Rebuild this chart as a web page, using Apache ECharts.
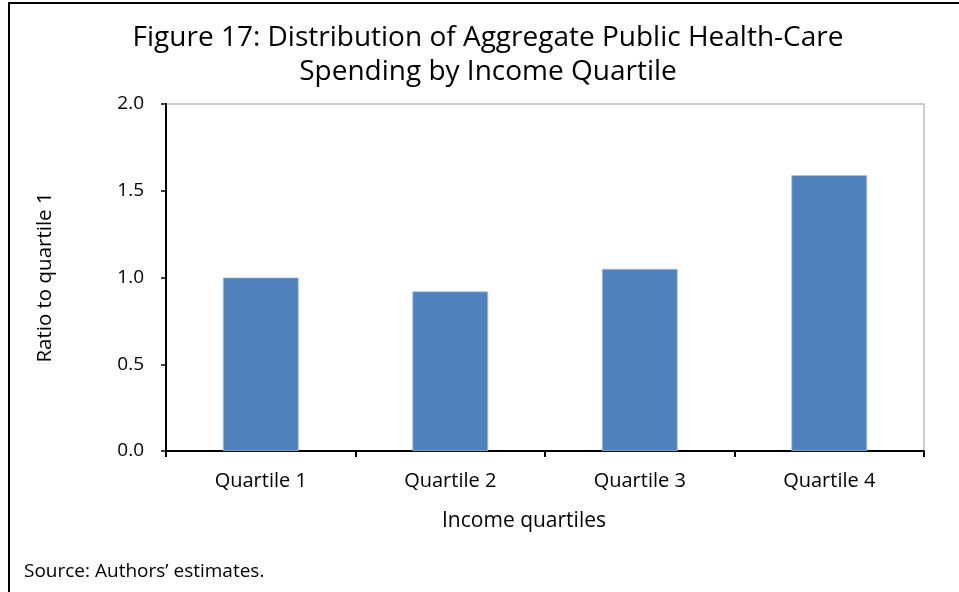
<!DOCTYPE html>
<html>
<head>
<meta charset="utf-8">
<script src="https://cdn.jsdelivr.net/npm/echarts@6/dist/echarts.min.js"></script>
<style>
html,body{margin:0;padding:0;background:#fff;}
#chart{width:959px;height:592px;}
</style>
</head>
<body>
<div id="chart"></div>
<script>
var categories = ['Quartile 1', 'Quartile 2', 'Quartile 3', 'Quartile 4'];
var ratioValues = [1.00, 0.92, 1.05, 1.59];
var titleLines = ['Figure 17: Distribution of Aggregate Public Health-Care', 'Spending by Income Quartile'];
var yAxisName = 'Ratio to quartile 1';
var xAxisName = 'Income quartiles';
var sourceNote = 'Source: Authors\u2019 estimates.';

var FONT = '"Open Sans", Lato, sans-serif';
var chart = echarts.init(document.getElementById('chart'));
chart.setOption({
  animation: false,
  backgroundColor: '#fff',
  graphic: [
    { type: 'rect', shape: { x: 9, y: 3, width: 1000, height: 1000 }, style: { fill: 'none', stroke: '#000', lineWidth: 2 }, silent: true },
    { type: 'text', x: 488, y: 38, style: { text: titleLines[0], fontFamily: FONT, fontSize: 28, fill: '#000', align: 'center', verticalAlign: 'middle' } },
    { type: 'text', x: 488, y: 72, style: { text: titleLines[1], fontFamily: FONT, fontSize: 28, fill: '#000', align: 'center', verticalAlign: 'middle' } },
    { type: 'text', left: 24, top: 562, style: { text: sourceNote, fontFamily: FONT, fontSize: 19, fill: '#000' } },
    { type: 'text', x: 524, y: 521, style: { text: xAxisName, fontFamily: FONT, fontSize: 21, fill: '#000', align: 'center', verticalAlign: 'middle' } }
  ],
  grid: {
    left: 166, top: 104, right: 35, bottom: 141,
    show: true, borderColor: '#bfbfbf', borderWidth: 1.5, backgroundColor: 'transparent'
  },
  xAxis: {
    type: 'category',
    data: categories,
    axisLine: { lineStyle: { color: '#000', width: 2 } },
    axisTick: { show: true, length: 6, lineStyle: { color: '#000', width: 2 } },
    axisLabel: { fontFamily: FONT, fontSize: 20, color: '#000', margin: 20 },
    splitLine: { show: false }
  },
  yAxis: {
    type: 'value',
    min: 0, max: 2, interval: 0.5,
    name: yAxisName,
    nameLocation: 'middle',
    nameGap: 110,
    nameTextStyle: { fontFamily: FONT, fontSize: 20.5, color: '#000' },
    axisLine: { show: true, lineStyle: { color: '#000', width: 2 } },
    axisTick: { show: true, length: 5, lineStyle: { color: '#000', width: 1.5 } },
    axisLabel: { fontFamily: FONT, fontSize: 19, color: '#000', margin: 22, formatter: function (v) { return v.toFixed(1); } },
    splitLine: { show: false }
  },
  series: [{
    type: 'bar',
    data: ratioValues,
    barWidth: '40%',
    itemStyle: { color: '#4f81bd', borderColor: '#a9c1e0', borderWidth: 0.8 }
  }]
});
</script>
</body>
</html>
